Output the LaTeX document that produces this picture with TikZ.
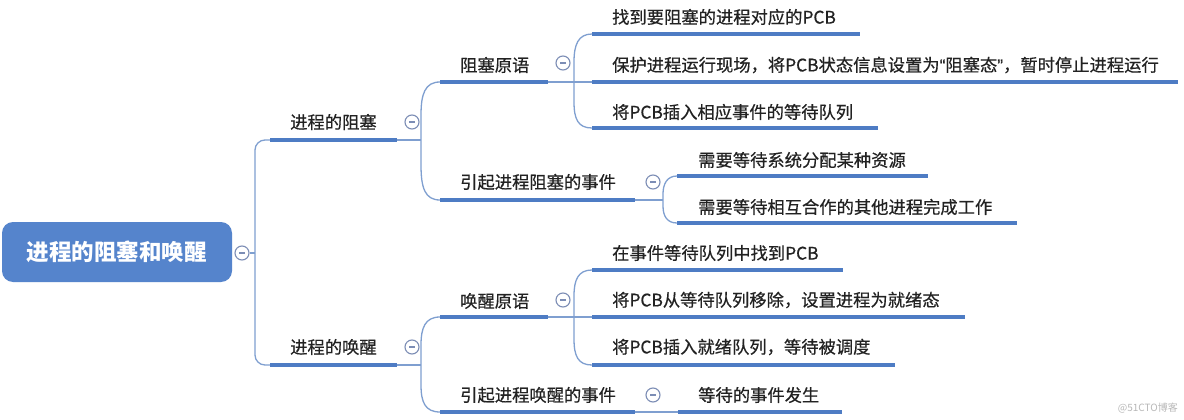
\documentclass[tikz,border=0pt]{standalone}
\usepackage{fontspec}
\newfontfamily\cjk{Noto Sans CJK SC}
\newfontfamily\cjkm[FakeBold=0.5]{Noto Sans CJK SC}
\newfontfamily\qf[FakeBold=0.5]{Liberation Sans}
\definecolor{rootblue}{HTML}{5584CC}
\definecolor{ulblue}{HTML}{4E7CC4}
\definecolor{thinblue}{HTML}{7F9FD0}
\definecolor{togcol}{HTML}{7C8DB5}
\definecolor{txt}{HTML}{222222}
\tikzset{
  lbl/.style={anchor=west, inner sep=0pt, text=txt, font=\cjkm\fontsize{17.3}{20}\selectfont},
  rootbox/.style={draw=none, fill=rootblue, rounded corners=11pt, minimum width=230pt, minimum height=60pt, text=white, font=\cjk\bfseries\fontsize{22.5}{26}\selectfont, inner sep=0pt},
  uline/.style={draw=ulblue, line width=3.5pt},
  conn/.style={draw=thinblue, line width=1.3pt},
  togg/.style={circle, draw=togcol, fill=white, line width=1.1pt, minimum size=14pt, inner sep=0pt},
}
\newcommand{\toggle}[2]{%
  \node[togg] (#1) at #2 {};
  \draw[togcol, line width=1.1pt] ([xshift=-3pt]#1.center) -- ([xshift=3pt]#1.center);
}
\begin{document}
\begin{tikzpicture}[x=1pt,y=-1pt]
\useasboundingbox[fill=white] (0,0) rectangle (1184,420);

% root
\node[rootbox] (root) at (117,252) {进程的阻塞和唤醒};
\toggle{t0}{(242,253)}

% trunk
\coordinate (u1s) at (270,140); \coordinate (u1e) at (397,140);
\coordinate (u2s) at (270,365); \coordinate (u2e) at (397,365);
\draw[conn] (t0.east) -- (255,253);
\draw[conn, rounded corners=10pt] (u1s) -- (255,140) -- (255,365) -- (u2s);

% level 1
\node[lbl] (l1a) at (290,122) {进程的阻塞};
\node[lbl] (l1b) at (290,347) {进程的唤醒};
\draw[uline] (u1s) -- (u1e);
\draw[uline] (u2s) -- (u2e);
\toggle{t1a}{(412,122)}
\toggle{t1b}{(412,347)}

% ---------- blocking branch ----------
\coordinate (a0s) at (440,82);  \coordinate (a0e) at (548,82);
\coordinate (b0s) at (440,200); \coordinate (b0e) at (635,200);
\draw[conn] (u1e) -- (421,140);
\draw[conn] (a0s) .. controls (425,82) and (421,94) .. (421,115) -- (421,165) .. controls (421,188) and (425,200) .. (b0s);
\node[lbl] (l2a) at (460,65) {阻塞原语};
\node[lbl] (l2b) at (460,182) {引起进程阻塞的事件};
\draw[uline] (a0s) -- (a0e);
\draw[uline] (b0s) -- (b0e);
\toggle{t2a}{(563,63)}
\toggle{t2b}{(653,182)}

% level 3 under 阻塞原语
\coordinate (a1s) at (592,34);  \coordinate (a1e) at (860,34);
\coordinate (a2s) at (592,82);  \coordinate (a2e) at (1178,82);
\coordinate (a3s) at (592,128); \coordinate (a3e) at (878,128);
\draw[conn] (a0e) -- (a2s);
\draw[conn] (a1s) .. controls (578,34) and (574,45) .. (574,62) -- (574,102) .. controls (574,119) and (578,128) .. (a3s);
\draw[uline] (a1s) -- (a1e);
\draw[uline] (a2s) -- (a2e);
\draw[uline] (a3s) -- (a3e);
\node[lbl] (a1) at (612,17) {找到要阻塞的进程对应的PCB};
\node[lbl] (a2) at (612,65) {保护进程运行现场，将PCB状态信息设置为{\qf “}阻塞态{\qf ”}，暂时停止进程运行};
\node[lbl] (a3) at (612,112) {将PCB插入相应事件的等待队列};

% level 3 under 引起进程阻塞的事件
\coordinate (b1s) at (677,176); \coordinate (b1e) at (928,176);
\coordinate (b2s) at (677,223); \coordinate (b2e) at (1017,223);
\draw[conn] (b0e) -- (663,200);
\draw[conn] (b1s) .. controls (667,176) and (663,184) .. (663,194) -- (663,206) .. controls (663,216) and (667,223) .. (b2s);
\draw[uline] (b1s) -- (b1e);
\draw[uline] (b2s) -- (b2e);
\node[lbl] (b1) at (698,160) {需要等待系统分配某种资源};
\node[lbl] (b2) at (698,207) {需要等待相互合作的其他进程完成工作};

% ---------- wake-up branch ----------
\coordinate (c0s) at (440,317); \coordinate (c0e) at (548,317);
\coordinate (d0s) at (440,412); \coordinate (d0e) at (635,412);
\draw[conn] (u2e) -- (421,365);
\draw[conn] (c0s) .. controls (425,317) and (421,328) .. (421,345) -- (421,385) .. controls (421,402) and (425,412) .. (d0s);
\node[lbl] (l2c) at (460,301) {唤醒原语};
\node[lbl] (l2d) at (460,395) {引起进程唤醒的事件};
\draw[uline] (c0s) -- (c0e);
\draw[uline] (d0s) -- (d0e);
\toggle{t2c}{(563,300)}
\toggle{t2d}{(653,395)}

% level 3 under 唤醒原语
\coordinate (c1s) at (592,270); \coordinate (c1e) at (843,270);
\coordinate (c2s) at (592,317); \coordinate (c2e) at (965,317);
\coordinate (c3s) at (592,365); \coordinate (c3e) at (895,365);
\draw[conn] (c0e) -- (c2s);
\draw[conn] (c1s) .. controls (578,270) and (574,280) .. (574,296) -- (574,339) .. controls (574,356) and (578,365) .. (c3s);
\draw[uline] (c1s) -- (c1e);
\draw[uline] (c2s) -- (c2e);
\draw[uline] (c3s) -- (c3e);
\node[lbl] (c1) at (612,253) {在事件等待队列中找到PCB};
\node[lbl] (c2) at (612,300) {将PCB从等待队列移除，设置进程为就绪态};
\node[lbl] (c3) at (612,347) {将PCB插入就绪队列，等待被调度};

% level 3 under 引起进程唤醒的事件
\coordinate (d1s) at (678,412); \coordinate (d1e) at (842,412);
\draw[conn] (d0e) -- (d1s);
\draw[uline] (d1s) -- (d1e);
\node[lbl] (d1) at (698,395) {等待的事件发生};

% watermark
\node[anchor=east, inner sep=0pt, text=black!28, font=\cjk\fontsize{10}{12}\selectfont] (wm) at (1178,408) {@51CTO博客};
\end{tikzpicture}
\end{document}
